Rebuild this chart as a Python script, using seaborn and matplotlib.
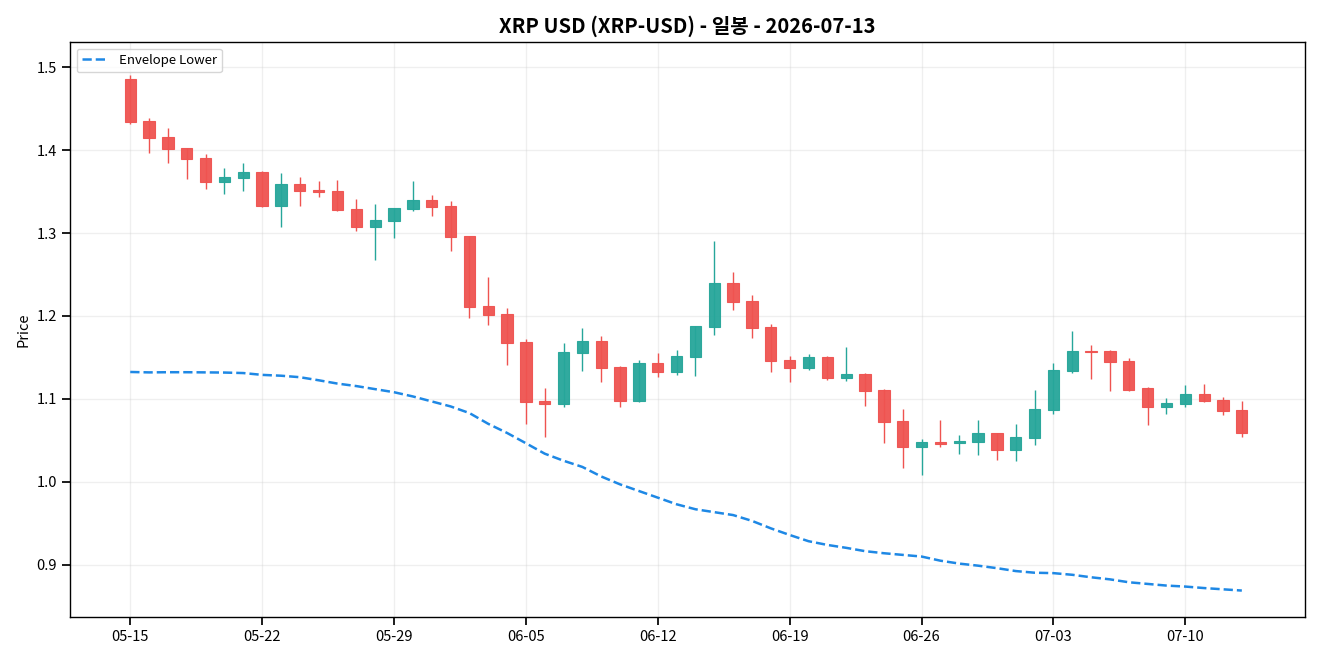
import pandas as pd
import matplotlib
matplotlib.use("Agg")
import matplotlib.pyplot as plt
import matplotlib.dates as mdates
import seaborn as sns

# daily OHLC, 2026-05-15 .. 2026-07-13
start_date = "2026-05-15"
opens = [1.4852, 1.4346, 1.4153, 1.4020, 1.3900, 1.3611, 1.3659, 1.3731, 1.3329, 1.3587,
         1.3514, 1.3502, 1.3286, 1.3069, 1.3141, 1.3286, 1.3394, 1.3322, 1.2960, 1.2117,
         1.2020, 1.1683, 1.0972, 1.0936, 1.1551, 1.1695, 1.1382, 1.0972, 1.1430, 1.1322,
         1.1502, 1.1864, 1.2394, 1.2177, 1.1864, 1.1466, 1.1370, 1.1502, 1.1249, 1.1298,
         1.1105, 1.0731, 1.0418, 1.0478, 1.0466, 1.0478, 1.0587, 1.0382, 1.0527, 1.0864,
         1.1334, 1.1575, 1.1575, 1.1454, 1.1129, 1.0900, 1.0936, 1.1057, 1.0984, 1.0864]
highs = [1.4910, 1.4386, 1.4265, 1.4020, 1.3952, 1.3783, 1.3843, 1.3747, 1.3723, 1.3675,
         1.3627, 1.3639, 1.3410, 1.3349, 1.3298, 1.3627, 1.3461, 1.3386, 1.2960, 1.2470,
         1.2096, 1.1719, 1.1129, 1.1671, 1.1852, 1.1755, 1.1394, 1.1466, 1.1558, 1.1590,
         1.1876, 1.2904, 1.2530, 1.2249, 1.1900, 1.1514, 1.1539, 1.1514, 1.1627, 1.1310,
         1.1117, 1.0880, 1.0514, 1.0747, 1.0563, 1.0747, 1.0587, 1.0699, 1.1108, 1.1434,
         1.1819, 1.1647, 1.1587, 1.1490, 1.1141, 1.1008, 1.1165, 1.1181, 1.1020, 1.0976]
lows = [1.4310, 1.3967, 1.3847, 1.3654, 1.3534, 1.3474, 1.3510, 1.3310, 1.3076, 1.3329,
        1.3430, 1.3269, 1.3028, 1.2678, 1.2943, 1.3265, 1.3205, 1.2787, 1.1980, 1.1895,
        1.1413, 1.0702, 1.0546, 1.0900, 1.1334, 1.1201, 1.0900, 1.0960, 1.1269, 1.1293,
        1.1281, 1.1775, 1.2076, 1.1739, 1.1329, 1.1208, 1.1346, 1.1233, 1.1220, 1.0919,
        1.0470, 1.0172, 1.0088, 1.0425, 1.0341, 1.0329, 1.0269, 1.0257, 1.0449, 1.0823,
        1.1317, 1.1245, 1.1100, 1.1100, 1.0690, 1.0823, 1.0900, 1.0964, 1.0811, 1.0546]
closes = [1.4334, 1.4141, 1.4008, 1.3888, 1.3611, 1.3671, 1.3731, 1.3329, 1.3587, 1.3502,
          1.3490, 1.3273, 1.3069, 1.3153, 1.3298, 1.3394, 1.3310, 1.2948, 1.2105, 1.2008,
          1.1671, 1.0960, 1.0936, 1.1563, 1.1695, 1.1370, 1.0972, 1.1430, 1.1322, 1.1514,
          1.1876, 1.2394, 1.2165, 1.1852, 1.1454, 1.1370, 1.1502, 1.1249, 1.1298, 1.1093,
          1.0719, 1.0418, 1.0478, 1.0461, 1.0490, 1.0587, 1.0382, 1.0539, 1.0876, 1.1346,
          1.1575, 1.1563, 1.1442, 1.1112, 1.0900, 1.0948, 1.1057, 1.0972, 1.0852, 1.0587]
envelope_lower = [1.1325, 1.1320, 1.1322, 1.1322, 1.1320, 1.1318, 1.1312, 1.1290, 1.1280, 1.1262,
                  1.1225, 1.1185, 1.1155, 1.1118, 1.1081, 1.1030, 1.0970, 1.0910, 1.0830, 1.0700,
                  1.0590, 1.0466, 1.0340, 1.0255, 1.0180, 1.0065, 0.9970, 0.9890, 0.9810, 0.9730,
                  0.9670, 0.9635, 0.9600, 0.9530, 0.9440, 0.9360, 0.9285, 0.9240, 0.9205, 0.9165,
                  0.9140, 0.9120, 0.9100, 0.9050, 0.9015, 0.8990, 0.8960, 0.8925, 0.8905, 0.8900,
                  0.8880, 0.8850, 0.8825, 0.8790, 0.8770, 0.8750, 0.8738, 0.8720, 0.8705, 0.8690]

UP = "#26a69a"
DOWN = "#ef5350"

df = pd.DataFrame({
    "date": pd.date_range(start_date, periods=len(opens), freq="D"),
    "open": opens, "high": highs, "low": lows, "close": closes,
    "env_lower": envelope_lower,
})
df["x"] = mdates.date2num(df["date"])
df["up"] = df["close"] >= df["open"]
df["color"] = df["up"].map({True: UP, False: DOWN})

sns.set_theme(style="ticks")
plt.rcParams["font.family"] = ["Noto Sans CJK KR", "DejaVu Sans"]
plt.rcParams["axes.unicode_minus"] = False
plt.rcParams["text.color"] = "black"
plt.rcParams["axes.labelcolor"] = "black"

fig, ax = plt.subplots(figsize=(13.2, 6.6), dpi=100)
fig.subplots_adjust(left=0.053, right=0.9886, top=0.936, bottom=0.065)

# wicks
ax.vlines(df["x"], df["low"], df["high"], colors=df["color"], linewidth=1, zorder=2)
# bodies
body_bottom = df[["open", "close"]].min(axis=1)
body_height = (df["open"] - df["close"]).abs().clip(lower=0.0012)
ax.bar(df["x"], body_height, bottom=body_bottom, width=0.6,
       color=df["color"], edgecolor=df["color"], linewidth=0.8, alpha=0.95, zorder=3)

sns.lineplot(data=df, x="x", y="env_lower", ax=ax, color="#1e88e5",
             linestyle="--", linewidth=1.8, label="Envelope Lower", zorder=4)

ax.xaxis.set_major_locator(mdates.WeekdayLocator(byweekday=mdates.FR))
ax.xaxis.set_major_formatter(mdates.DateFormatter("%m-%d"))
ax.set_xlim(df["x"].iloc[0] - 3.2, df["x"].iloc[-1] + 3.35)
ax.set_ylim(0.837, 1.530)

ax.set_title("XRP USD (XRP-USD) - 일봉 - 2026-07-13", fontsize=14.5, fontweight="bold",
             color="black", pad=7)
ax.set_xlabel("")
ax.set_ylabel("Price", fontsize=10.5)
ax.tick_params(axis="both", labelsize=10.5, colors="black")
for s in ax.spines.values():
    s.set_color("black")
    s.set_linewidth(1)
ax.grid(True, alpha=0.3)
ax.legend(loc="upper left", fontsize=9.5, frameon=True)

fig.savefig("out.png", dpi=100)
